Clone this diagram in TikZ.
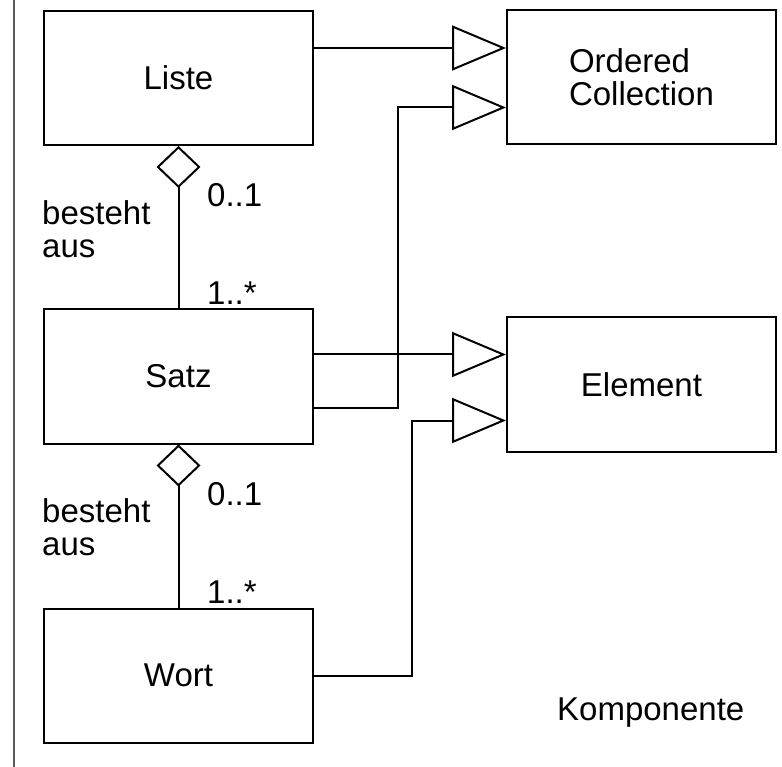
\documentclass[tikz,border=0pt]{standalone}
\usepackage{fontspec}
\setmainfont{Liberation Sans}
\usetikzlibrary{arrows.meta}
\begin{document}
\begin{tikzpicture}[x=1pt,y=-1pt,
    font=\fontsize{33}{33}\selectfont,
    klasse/.style={draw, line width=2pt, minimum width=269pt, minimum height=134pt, inner sep=0pt},
    gen/.style={line width=2pt, -{Triangle[open, length=54pt, width=45pt]}},
    agg/.style={line width=2pt, {Diamond[open, length=42pt, width=44pt]}-},
    lbl/.style={inner sep=0pt, align=left}]
    \useasboundingbox (0,0) rectangle (782,767);
    \draw[gray!70!black, line width=1.5pt] (14,0) -- (14,767);
    % classes
    \node[klasse] (liste) at (178.5,78) {Liste};
    \node[klasse] (satz) at (178.5,376.5) {Satz};
    \node[klasse] (wort) at (178.5,675.5) {Wort};
    \node[klasse, align=left] (oc) at (641.5,77.5) {Ordered\\Collection};
    \node[klasse] (element) at (641.5,384.5) {Element};
    % aggregations
    \draw[agg] (liste.south) -- (satz.north);
    \draw[agg] (satz.south) -- (wort.north);
    \node[lbl, anchor=base west] (m1) at (207,207) {0..1};
    \node[lbl, anchor=base west] (n1) at (207,305) {1..*};
    \node[lbl, anchor=north west] (r1) at (42,200) {besteht\\aus};
    \node[lbl, anchor=base west] (m2) at (207,505) {0..1};
    \node[lbl, anchor=base west] (n2) at (207,603) {1..*};
    \node[lbl, anchor=north west] (r2) at (42,498) {besteht\\aus};
    % generalizations
    \draw[gen] ([yshift=30pt]liste.east) -- ([yshift=30pt]liste.east -| oc.west);
    \draw[gen] ([yshift=-31pt]satz.east) -- ++(84,0) |- ([yshift=-30pt]oc.west);
    \draw[gen] ([yshift=22pt]satz.east) -- ([yshift=22pt]satz.east -| element.west);
    \draw[gen] (wort.east) -- ++(98,0) |- ([yshift=-36pt]element.west);
    \node[lbl, anchor=base west] (komp) at (557,720) {Komponente};
\end{tikzpicture}
\end{document}
